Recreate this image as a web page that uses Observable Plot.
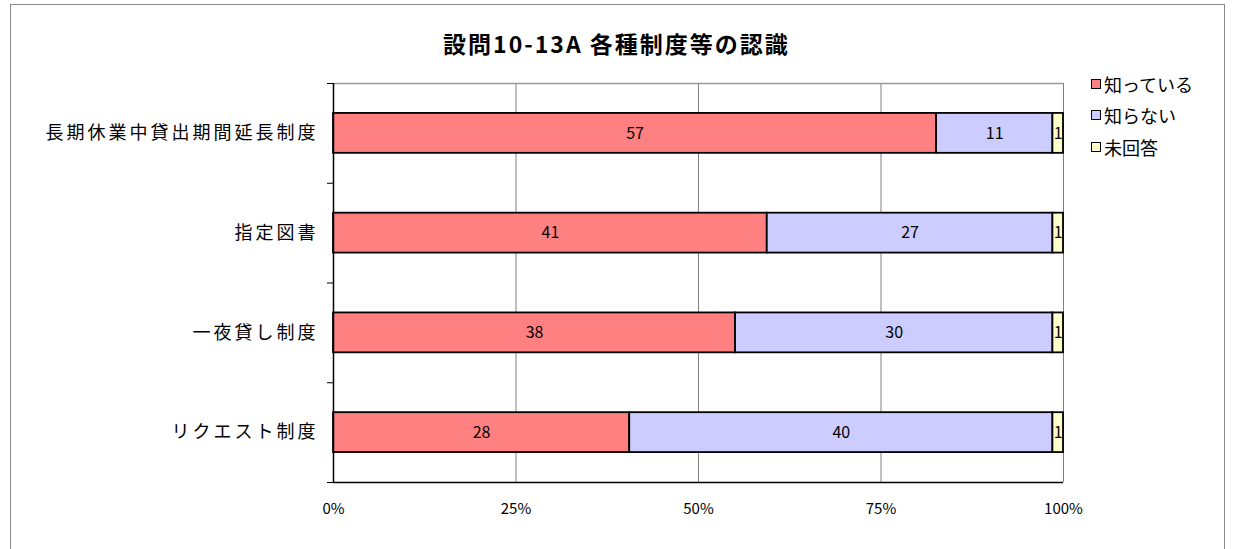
<!DOCTYPE html>
<html><head><meta charset="utf-8">
<script src="https://cdn.jsdelivr.net/npm/d3@7"></script>
<script src="https://cdn.jsdelivr.net/npm/@observablehq/plot@0.6"></script>
<style>
body{margin:0;background:#fff;font-family:"Noto Sans CJK JP",sans-serif;}
#wrap{position:relative;width:1233px;height:549px;overflow:hidden;}
#frame{position:absolute;left:10px;top:4px;width:1215px;height:560px;border:1.5px solid #888;box-sizing:border-box;}
#title{position:absolute;left:0;width:1233px;top:26px;text-align:center;font-size:23px;font-weight:bold;letter-spacing:2px;color:#000;}
#legend{position:absolute;left:1091px;top:68px;font-size:18px;color:#000;}
#legend div{height:31.5px;display:flex;align-items:center;}
#legend span.sw{display:inline-block;width:8px;height:8px;border:1.5px solid #000;margin-right:3px;}
#chart{position:absolute;left:0;top:0;}
.cat text{letter-spacing:3px;}
</style></head>
<body><div id="wrap"><div id="frame"></div><div id="title">設問10-13A 各種制度等の認識</div><div id="legend"></div><div id="chart"></div></div>
<script>
const categories = ["長期休業中貸出期間延長制度","指定図書","一夜貸し制度","リクエスト制度"];
const seriesNames = ["知っている","知らない","未回答"];
const known = [57,41,38,28];
const unknown = [11,27,30,40];
const noAnswer = [1,1,1,1];
const colors = ["#FF8080","#CCCCFF","#FFFFCC"];
const xTicks = [0,0.25,0.5,0.75,1];

const seriesValues = [known, unknown, noAnswer];
const data = [];
categories.forEach((c,i)=>{
  seriesNames.forEach((s,j)=>{ data.push({cat:c, i, series:s, value:seriesValues[j][i]}); });
});

const chart = Plot.plot({
  width:1233, height:549,
  marginLeft:333, marginRight:170, marginTop:83, marginBottom:67,
  style:{fontFamily:'"Noto Sans CJK JP",sans-serif', background:"transparent", color:"#000"},
  x:{domain:[0,1], label:null},
  y:{domain:[categories.length,0], label:null},
  color:{domain:seriesNames, range:colors},
  marks:[
    Plot.ruleX(xTicks.slice(1), {stroke:"#808080", strokeWidth:1}),
    Plot.ruleY([0], {stroke:"#999", strokeWidth:1.5}),
    Plot.rectX(data, Plot.stackX({x:"value", y1:d=>d.i+0.3, y2:d=>d.i+0.7, fill:"series", offset:"normalize", stroke:"#000", strokeWidth:1.8})),
    Plot.text(data, Plot.stackX({x:"value", y:d=>d.i+0.5, z:"series", offset:"normalize", text:"value", fontSize:16, fill:"#000"})),
    Plot.ruleX([0], {stroke:"#000", strokeWidth:1.5}),
    Plot.ruleY([categories.length], {stroke:"#000", strokeWidth:1.5}),
    Plot.axisY(d3.range(categories.length+1), {tickSize:6, tickFormat:()=>"", stroke:"#000", strokeOpacity:1, label:null}),
    Plot.axisY(categories.map((c,i)=>i+0.5), {tickSize:0, tickPadding:15, fontSize:18, className:"cat", label:null, tickFormat:v=>categories[Math.floor(v)]}),
    Plot.axisX(xTicks, {tickSize:0, tickPadding:21, fontSize:15, label:null, tickFormat:d3.format(".0%")})
  ]
});
document.getElementById("chart").appendChild(chart);

const lg = document.getElementById("legend");
seriesNames.forEach((s,j)=>{
  const d = document.createElement("div");
  d.innerHTML = `<span class="sw" style="background:${colors[j]}"></span>${s}`;
  lg.appendChild(d);
});
</script></body></html>
